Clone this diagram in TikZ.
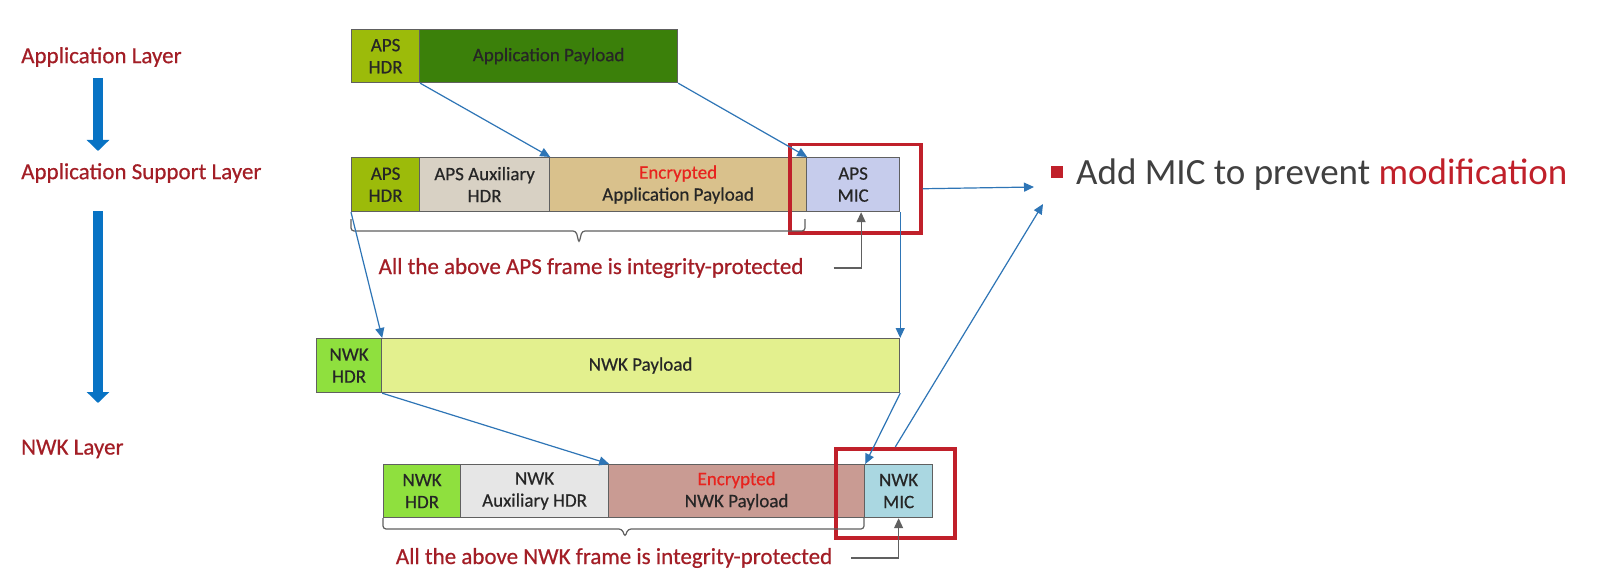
\documentclass[tikz,border=0pt]{standalone}
\usepackage{fontspec}
\setmainfont{Carlito}
\newfontfamily\medfont{Carlito}[FakeBold=0.5]
\usetikzlibrary{arrows.meta,calc}
\definecolor{aphdr}{HTML}{9CBB0A}
\definecolor{appay}{HTML}{3B800A}
\definecolor{auxa}{HTML}{D8D1C4}
\definecolor{enca}{HTML}{D9C18C}
\definecolor{mica}{HTML}{C6CCEC}
\definecolor{nwhdr}{HTML}{8FE03E}
\definecolor{nwpay}{HTML}{E3F08E}
\definecolor{auxb}{HTML}{E6E6E6}
\definecolor{encb}{HTML}{C99B93}
\definecolor{micb}{HTML}{AAD7E1}
\definecolor{txtdark}{HTML}{262626}
\definecolor{lblred}{HTML}{A31E26}
\definecolor{encred}{HTML}{E8231E}
\definecolor{boxred}{HTML}{C0202A}
\definecolor{conblue}{HTML}{2E75B6}
\definecolor{bigblue}{HTML}{0873C4}
\definecolor{bordergray}{HTML}{606060}
\definecolor{bodygray}{HTML}{404040}
\begin{document}
\begin{tikzpicture}[x=1pt,y=-1pt,
  frame/.style={draw=bordergray,line width=1.2pt,rectangle,anchor=north west,inner sep=0pt,
    align=center,text=txtdark,font=\medfont\fontsize{19}{22}\selectfont},
  redbox/.style={draw=boxred,line width=3.5pt,rectangle,anchor=north west,inner sep=0pt},
  conn/.style={draw=conblue,line width=1.2pt,-{Triangle[length=10pt,width=9pt]}},
  bigarrow/.style={draw=bigblue,line width=10.5pt,-{Triangle[length=11pt,width=22pt]}},
  layerlbl/.style={anchor=west,inner sep=0pt,text=lblred,font=\medfont\fontsize{23}{26}\selectfont},
  notelbl/.style={anchor=center,inner sep=0pt,text=lblred,font=\medfont\fontsize{23}{26}\selectfont},
  bracket/.style={draw=bordergray,line width=1.2pt,rounded corners=3pt},
  pointer/.style={draw=bordergray,line width=1.2pt,-{Triangle[length=10pt,width=9pt]}}
]
\useasboundingbox (0,0) rectangle (1616,588);
\fill[white] (0,0) rectangle (1616,588);

% layer labels
\node[layerlbl] (lapp) at (21,57) {Application Layer};
\node[layerlbl] (laps) at (21,173) {Application Support Layer};
\node[layerlbl] (lnwk) at (21,449) {NWK Layer};
\coordinate (ba1s) at (98,78);
\coordinate (ba1e) at (98,151);
\coordinate (ba2s) at (98,211);
\coordinate (ba2e) at (98,403);
\draw[bigarrow] (ba1s) -- (ba1e);
\draw[bigarrow] (ba2s) -- (ba2e);

% row 1
\node[frame,fill=aphdr,minimum width=68pt,minimum height=53pt] (a1hdr) at (351,29) {APS\\HDR};
\node[frame,fill=appay,minimum width=258pt,minimum height=53pt] (a1pay) at (419,29) {Application Payload};

% row 2
\node[frame,fill=aphdr,minimum width=68pt,minimum height=54pt] (a2hdr) at (351,157) {APS\\HDR};
\node[frame,fill=auxa,minimum width=130pt,minimum height=54pt] (a2aux) at (419,157) {APS Auxiliary\\HDR};
\node[frame,fill=enca,minimum width=257pt,minimum height=54pt] (a2enc) at (549,157) {\textcolor{encred}{Encrypted}\\Application Payload};
\node[frame,fill=mica,minimum width=93pt,minimum height=54pt] (a2mic) at (806,157) {APS\\MIC};
\node[redbox,minimum width=131pt,minimum height=88pt] (red1) at (788,143) {};

% row 3
\node[frame,fill=nwhdr,minimum width=65pt,minimum height=54pt] (n1hdr) at (316,338) {NWK\\HDR};
\node[frame,fill=nwpay,minimum width=518pt,minimum height=54pt] (n1pay) at (381,338) {NWK Payload};

% row 4
\node[frame,fill=nwhdr,minimum width=77pt,minimum height=53pt] (n2hdr) at (383,464) {NWK\\HDR};
\node[frame,fill=auxb,minimum width=148pt,minimum height=53pt] (n2aux) at (460,464) {NWK\\Auxiliary HDR};
\node[frame,fill=encb,minimum width=256pt,minimum height=53pt] (n2enc) at (608,464) {\textcolor{encred}{Encrypted}\\NWK Payload};
\node[frame,fill=micb,minimum width=68pt,minimum height=53pt] (n2mic) at (864,464) {NWK\\MIC};
\node[redbox,minimum width=119pt,minimum height=89pt] (red2) at (834,447) {};

% brackets
\coordinate (b1l) at (351,219);
\coordinate (b1r) at (805,219);
\draw[bracket] (b1l) -- (351,231) -- (576,231) -- (579,243) -- (582,231) -- (805,231) -- (b1r);
\coordinate (b2l) at (383,518);
\coordinate (b2r) at (864,518);
\draw[bracket] (b2l) -- (383,529) -- (622,529) -- (625,537) -- (628,529) -- (864,529) -- (b2r);

% notes
\node[notelbl] (note1) at (591,268) {All the above APS frame is integrity-protected};
\node[notelbl] (note2) at (614,558) {All the above NWK frame is integrity-protected};
\draw[pointer] ($(note1.east)+(30,0)$) -| ([xshift=8pt]a2mic.south);
\draw[pointer] ($(note2.east)+(19,0)$) -| (n2mic.south);

% connectors
\draw[conn] (a1hdr.south east) -- (a2aux.north east);
\draw[conn] (a1pay.south east) -- (a2enc.north east);
\draw[conn] (a2hdr.south west) -- (n1hdr.north east);
\draw[conn] (a2mic.south east) -- (n1pay.north east);
\draw[conn] (n1hdr.south east) -- (n2aux.north east);
\draw[conn] (n1pay.south east) -- (n2enc.north east);

% right note
\coordinate (tip1) at (1034,187);
\coordinate (tip2) at (1043,204);
\draw[conn] (red1.east) -- (tip1);
\draw[conn] (red2.north) -- (tip2);
\fill[boxred] (1051,166) rectangle (1063,178);
\node[anchor=base west,inner sep=0pt,text=bodygray,font=\fontsize{37}{40}\selectfont] (addmic) at (1076,185) {Add MIC to prevent \textcolor{boxred}{modification}};
\end{tikzpicture}
\end{document}
